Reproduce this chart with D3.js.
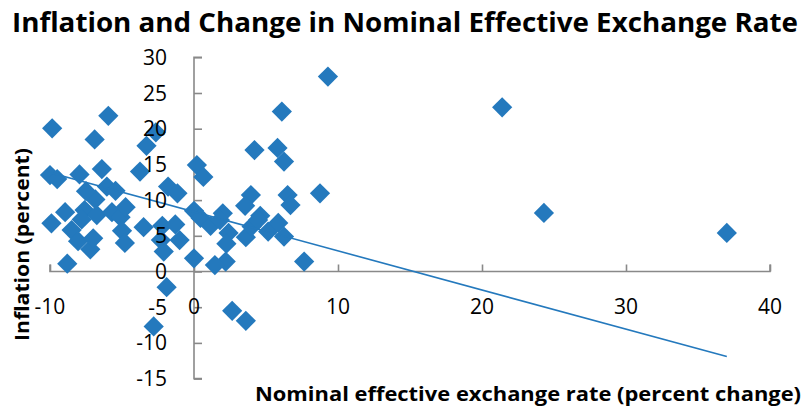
<!DOCTYPE html>
<html>
<head>
<meta charset="utf-8">
<script src="https://cdn.jsdelivr.net/npm/d3@7"></script>
<style>
  html, body { margin: 0; padding: 0; background: #fff; }
  svg { display: block; font-family: "Open Sans", "Liberation Sans", sans-serif; }
</style>
</head>
<body>
<svg id="chart" width="809" height="412"></svg>
<script>
// Nominal effective exchange rate change (percent) per country
const neerChange = [
  -9.85, -10.0, -9.5, -9.9, -8.95, -8.5, -8.05, -7.2, -7.0, -8.8,
  -7.6, -6.85, -6.75, -7.95, -6.4, -7.5, -6.05, -5.45, -6.9, -5.95,
  -5.7, -5.1, -4.75, -5.0, -4.8, -7.8, -3.75, -3.3, -2.65, -1.8,
  -1.15, -3.5, -2.2, -1.3, -2.3, -2.1, -1.0, -1.9, -2.8, 0.0,
  0.2, 0.65, 0.0, 0.45, 1.15, 2.0, 1.8, 2.4, 2.25, 2.2,
  1.45, 3.6, 4.0, 4.6, 5.15, 5.85, 6.25, 7.65, 2.65, 3.6,
  3.95, 3.55, 6.5, 6.7, 8.75, 4.2, 5.8, 6.25, 6.1, 9.3,
  4.45, 21.4, 24.3, 37.0
];
// Inflation (percent) for the same countries
const inflation = [
  20.05, 13.5, 12.95, 6.75, 8.3, 5.8, 4.25, 3.1, 4.65, 1.1,
  8.6, 10.1, 7.9, 13.6, 14.35, 11.25, 11.9, 11.3, 18.5, 21.8,
  8.3, 7.6, 9.0, 5.7, 4.0, 7.3, 14.0, 17.6, 19.5, 11.9,
  10.95, 6.2, 6.4, 6.6, 4.4, 2.8, 4.4, -2.2, -7.7, 1.85,
  14.9, 13.25, 8.5, 7.5, 6.4, 8.15, 7.2, 5.4, 3.9, 1.4,
  0.9, 4.8, 6.3, 7.8, 5.6, 6.8, 4.9, 1.4, -5.5, -6.9,
  10.7, 9.2, 10.7, 9.3, 10.95, 17.0, 17.3, 15.4, 22.4, 27.3,
  7.2, 23.0, 8.2, 5.4
];

// Linear trend line: inflation = trendIntercept + trendSlope * change
const trendIntercept = 8.37;
const trendSlope = -0.548;
const trendSpan = [-9.9, 37.0];

const xTicks = [-10, 0, 10, 20, 30, 40];
const yTicks = [-15, -10, -5, 0, 5, 10, 15, 20, 25, 30];

const titleText = "Inflation and Change in Nominal Effective Exchange Rate";
const xTitle = "Nominal effective exchange rate (percent change)";
const yTitle = "Inflation (percent)";

const points = neerChange.map((v, i) => ({ x: v, y: inflation[i] }));

const svg = d3.select("#chart");
const blue = "#2479bd";
const axisGrey = "#898989";

const x = d3.scaleLinear().domain([-10, 40]).range([50, 770]);
const y = d3.scaleLinear().domain([-15, 30]).range([378.6, 57.3]);

// Title
svg.append("text")
  .attr("x", 12).attr("y", 32)
  .attr("font-size", 26).attr("font-weight", "bold")
  .attr("textLength", 786).attr("lengthAdjust", "spacingAndGlyphs")
  .attr("fill", "#000")
  .text(titleText);

// Vertical axis, crossing at x = 0, ticks pointing inward
const yAxis = d3.axisRight(y).tickValues(yTicks).tickSize(8).tickFormat("");
const gy = svg.append("g").attr("transform", `translate(${x(0)},0)`).call(yAxis);
gy.select(".domain").attr("stroke", axisGrey).attr("stroke-width", 1.6).attr("d", `M8,${y(30)}H0V${y(-15)}H8`);
gy.selectAll(".tick line").attr("stroke", axisGrey).attr("stroke-width", 1.6);

// Horizontal axis, crossing at y = 0, ticks pointing upward
const xAxis = d3.axisTop(x).tickValues(xTicks).tickSize(7).tickFormat("");
const gx = svg.append("g").attr("transform", `translate(0,${y(0)})`).call(xAxis);
gx.select(".domain").attr("stroke", axisGrey).attr("stroke-width", 1.6).attr("d", `M${x(-10)},-7V0H${x(40)}V-7`);
gx.selectAll(".tick line").attr("stroke", axisGrey).attr("stroke-width", 1.6);

// Markers
const diamond = d3.symbol().type(d3.symbolSquare).size(205);
svg.append("g").selectAll("path")
  .data(points)
  .join("path")
  .attr("d", diamond)
  .attr("transform", d => `translate(${x(d.x)},${y(d.y)}) rotate(45)`)
  .attr("fill", blue);

// Trend line
const line = d3.line().x(d => x(d)).y(d => y(trendIntercept + trendSlope * d));
svg.append("path")
  .attr("d", line(trendSpan))
  .attr("fill", "none")
  .attr("stroke", blue)
  .attr("stroke-width", 1.6);

// Tick labels
svg.append("g").selectAll("text")
  .data(yTicks)
  .join("text")
  .attr("x", x(0) - 27)
  .attr("y", d => y(d) + 7.5)
  .attr("text-anchor", "end")
  .attr("font-size", 21)
  .attr("fill", "#000")
  .text(d => d);

svg.append("g").selectAll("text")
  .data(xTicks)
  .join("text")
  .attr("x", d => x(d))
  .attr("y", y(0) + 42)
  .attr("text-anchor", "middle")
  .attr("font-size", 21)
  .attr("fill", "#000")
  .text(d => d);

// Axis titles
svg.append("text")
  .attr("transform", `translate(29,341) rotate(-90)`)
  .attr("font-size", 20).attr("font-weight", "bold")
  .attr("textLength", 193).attr("lengthAdjust", "spacingAndGlyphs")
  .attr("fill", "#000")
  .text(yTitle);

svg.append("text")
  .attr("x", 255).attr("y", 401)
  .attr("font-size", 20).attr("font-weight", "bold")
  .attr("textLength", 546).attr("lengthAdjust", "spacingAndGlyphs")
  .attr("fill", "#000")
  .text(xTitle);
</script>
</body>
</html>
